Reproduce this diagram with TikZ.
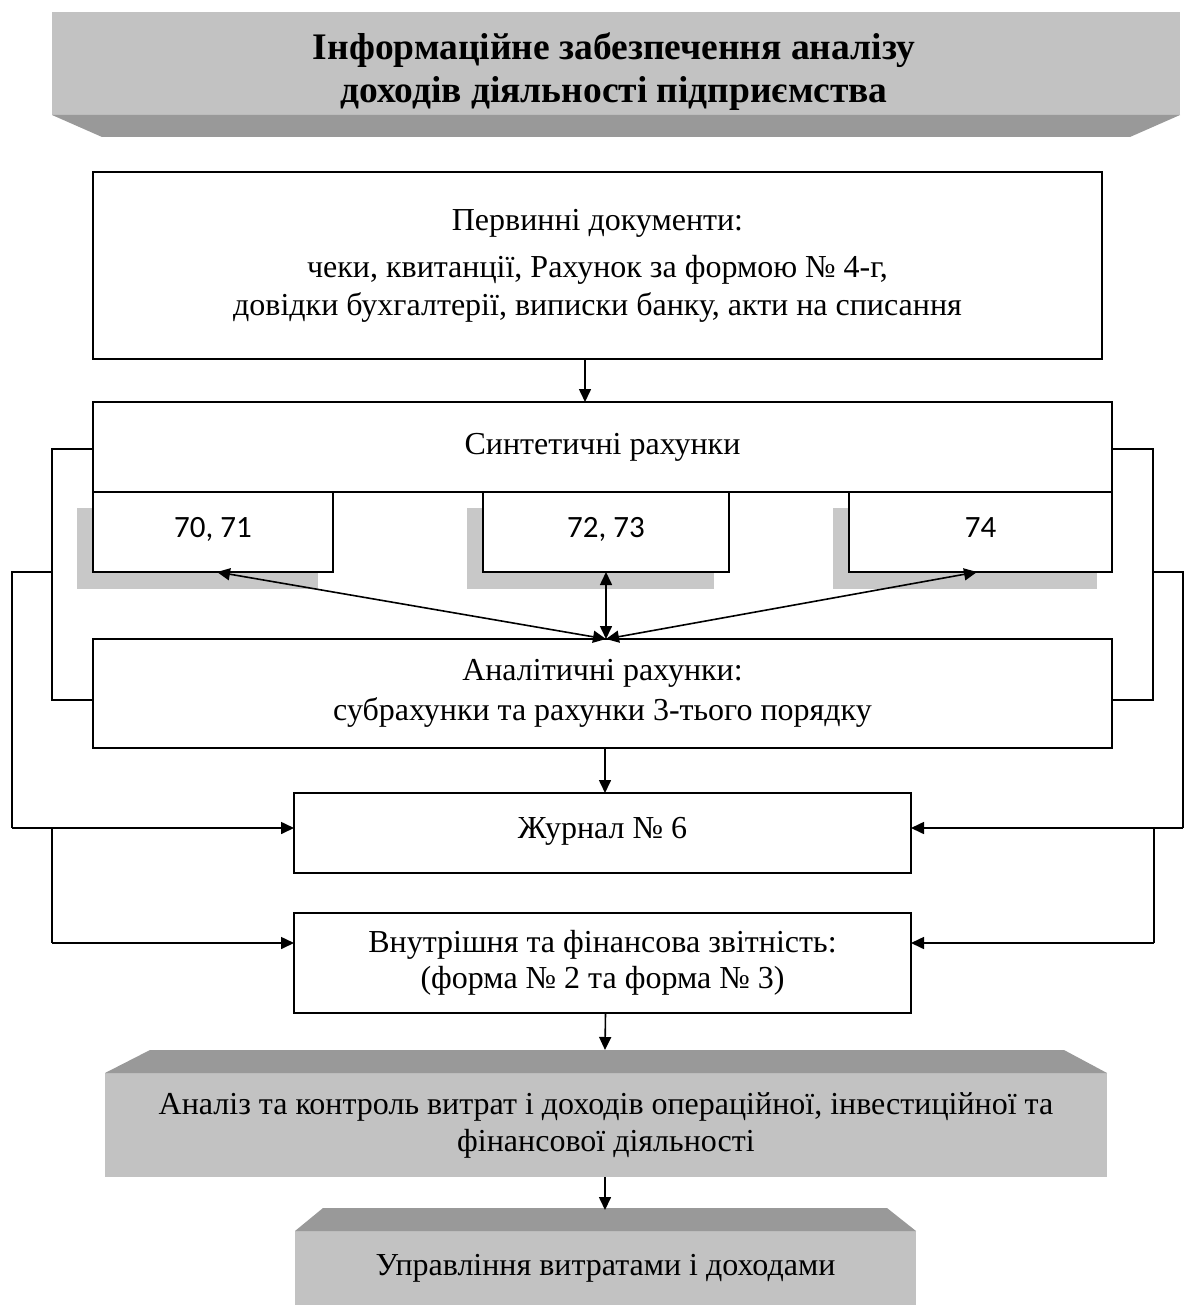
\documentclass[tikz,border=0pt]{standalone}
\usepackage{fontspec}
\setmainfont{Liberation Serif}
\newfontfamily\calib{Carlito}
\usetikzlibrary{arrows.meta,calc}
\definecolor{facegray}{RGB}{194,194,194}
\definecolor{bevelgray}{RGB}{153,153,153}
\definecolor{shadowgray}{RGB}{200,200,200}
\begin{document}
\begin{tikzpicture}[x=0.5pt,y=-0.5pt,
  box/.style={draw, line width=0.8pt, fill=white, rectangle, anchor=north west,
    inner sep=0pt, outer sep=0pt, align=center, font=\fontsize{16}{19}\selectfont},
  numbox/.style={box, font=\calib\fontsize{15.5}{19}\selectfont},
  face/.style={fill=facegray, draw=none, rectangle, anchor=north west,
    inner sep=0pt, outer sep=0pt, align=center, font=\fontsize{16}{18.5}\selectfont},
  shadowbox/.style={fill=shadowgray, draw=none, rectangle, anchor=north west,
    inner sep=0pt, outer sep=0pt},
  conn/.style={line width=0.8pt},
  arr/.style={conn, -{Triangle[length=6.5pt,width=6pt]}},
  darr/.style={conn, {Triangle[length=6.5pt,width=6pt]}-{Triangle[length=6.5pt,width=6pt]}}
]
\useasboundingbox (0,0) rectangle (1184,1305);

% title banner
\fill[facegray] (52,12) rectangle (1180,115);
\fill[bevelgray] (52,115) -- (1180,115) -- (1130,137) -- (102,137) -- cycle;
\node[align=center, inner sep=0pt, font=\bfseries\fontsize{18.75}{21.5}\selectfont] (title) at (614,72)
  {Інформаційне забезпечення аналізу\\доходів діяльності підприємства};

% primary documents
\node[box, minimum width=504.5pt, minimum height=93.5pt] (p1) at (93,172)
  {Первинні документи:\\[4.5pt] чеки, квитанції, Рахунок за формою № 4-г,\\ довідки бухгалтерії, виписки банку, акти на списання};

% synthetic accounts
\node[box, minimum width=509.5pt, minimum height=45pt] (synth) at (93,402) {Синтетичні рахунки};

% shadows
\node[shadowbox, minimum width=120.5pt, minimum height=40.5pt] (sh1) at (77,508) {};
\node[shadowbox, minimum width=123.5pt, minimum height=40.5pt] (sh2) at (467,508) {};
\node[shadowbox, minimum width=132pt, minimum height=40.5pt] (sh3) at (833,508) {};

\node[numbox, minimum width=120pt, minimum height=40pt] (s1) at (93,492) {\raisebox{4.5pt}{70, 71}};
\node[numbox, minimum width=123pt, minimum height=40pt] (s2) at (483,492) {\raisebox{4.5pt}{72, 73}};
\node[numbox, minimum width=131.5pt, minimum height=40pt] (s3) at (849,492) {\raisebox{4.5pt}{74}};

% analytical
\node[box, minimum width=509.5pt, minimum height=54.5pt, font=\fontsize{16}{20}\selectfont] (anal) at (93,639)
  {Аналітичні рахунки:\\ субрахунки та рахунки 3-тього порядку};

% journal
\node[box, minimum width=308.5pt, minimum height=40pt] (jour) at (294,793) {\raisebox{5pt}{Журнал № 6}};

% reports
\node[box, minimum width=308.5pt, minimum height=50pt, font=\fontsize{16}{18}\selectfont] (vnut) at (294,913)
  {Внутрішня та фінансова звітність:\\ (форма № 2 та форма № 3)};

% analysis (gray)
\node[face, minimum width=501pt, minimum height=52pt] (ana) at (105,1073)
  {Аналіз та контроль витрат і доходів операційної, інвестиційної та\\ фінансової діяльності};
\fill[bevelgray] (150,1050) -- (1064,1050) -- (ana.north east) -- (ana.north west) -- cycle;
\coordinate (anatop) at (605,1050);

% management (gray)
\node[face, minimum width=310.5pt, minimum height=37pt] (upr) at (295,1231)
  {\raisebox{2.5pt}{Управління витратами і доходами}};
\fill[bevelgray] (323,1208) -- (887,1208) -- (upr.north east) -- (upr.north west) -- cycle;
\coordinate (uprtop) at (605,1210);

% vertical arrows
\coordinate (p1out) at ($(p1.south)+(-12.5,0)$);
\draw[arr] (p1out) -- (p1out |- synth.north);

\coordinate (hub) at ($(anal.north)+(3.5,0)$);
\draw[darr] (hub) -- ($(s1.south)+(4,0)$);
\draw[darr] (hub) -- (s2.south);
\draw[darr] (hub) -- ($(s3.south)+(-3.5,0)$);

\draw[arr] ($(anal.south)+(2.5,0)$) -- ($(jour.north)+(2.5,0)$);
\draw[arr] ($(vnut.south)+(3,0)$) -- (anatop);
\draw[arr] ($(ana.south)+(-1,0)$) -- (uprtop);

% left connectors
\coordinate (la) at (52,449);
\coordinate (lb) at (52,700);
\coordinate (lc) at (52,572);
\coordinate (ld) at (12,572);
\coordinate (le) at (12,828);
\coordinate (lf) at (52,828);
\coordinate (lg) at (52,943);
\draw[conn] (synth.west |- la) -- (la) -- (lb) -- (anal.west |- lb);
\draw[conn] (lc) -- (ld) -- (le);
\draw[arr] (le) -- (jour.west |- le);
\draw[conn] (lf) -- (lg);
\draw[arr] (lg) -- (vnut.west |- lg);

% right connectors
\coordinate (ra) at (1153,449);
\coordinate (rb) at (1153,700);
\coordinate (rc) at (1153,572);
\coordinate (rd) at (1183,572);
\coordinate (re) at (1183,828);
\coordinate (rf) at (1154,828);
\coordinate (rg) at (1154,943);
\draw[conn] (synth.east |- ra) -- (ra) -- (rb) -- (anal.east |- rb);
\draw[conn] (rc) -- (rd) -- (re);
\draw[arr] (re) -- (jour.east |- re);
\draw[conn] (rf) -- (rg);
\draw[arr] (rg) -- (vnut.east |- rg);
\end{tikzpicture}
\end{document}
